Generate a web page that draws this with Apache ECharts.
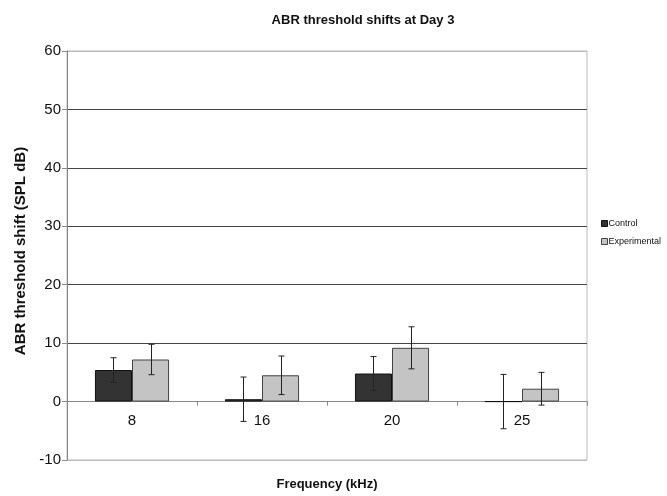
<!DOCTYPE html>
<html>
<head>
<meta charset="utf-8">
<script src="https://cdn.jsdelivr.net/npm/echarts@6/dist/echarts.min.js"></script>
<style>
  html, body { margin: 0; padding: 0; background: #fff; }
  #chart { width: 667px; height: 496px; }
</style>
</head>
<body>
<div id="chart"></div>
<script>
"use strict";

var frequencies = ['8', '16', '20', '25'];
var controlMean = [5.4, 0.4, 4.8, 0];
var controlErr = [2.1, 3.8, 2.9, 4.65];
var expMean = [7.2, 4.5, 9.2, 2.2];
var expErr = [2.6, 3.3, 3.6, 2.8];

var sans = '"Liberation Sans", Arial, sans-serif';
var gapPct = 43;
var yMin = -10;
var yMax = 60;
var gridTop = 51;
var gridBottom = 36;
var chartHeight = 496;

var myChart = echarts.init(document.getElementById('chart'));

// the category axis sits on y = 0, so shift it up from the grid bottom
var plotHeight = chartHeight - gridTop - gridBottom;
var zeroOffset = -plotHeight * (0 - yMin) / (yMax - yMin);

function errorData(means, errs) {
  return means.map(function (m, i) {
    return [i, m - errs[i], m + errs[i]];
  });
}

function makeErrorRender(side) {
  return function (params, api) {
    var idx = api.value(0);
    var low = api.coord([idx, api.value(1)]);
    var high = api.coord([idx, api.value(2)]);
    var band = api.size([1, 0])[0];
    var bw = band * (1 - gapPct / 100) / 2;
    var x = Math.round(low[0] + side * bw / 2) + 0.5;
    var cap = 3;
    var style = { stroke: '#222', lineWidth: 1 };
    return {
      type: 'group',
      children: [
        { type: 'line', shape: { x1: x, y1: high[1], x2: x, y2: low[1] }, style: style },
        { type: 'line', shape: { x1: x - cap, y1: high[1], x2: x + cap, y2: high[1] }, style: style },
        { type: 'line', shape: { x1: x - cap, y1: low[1], x2: x + cap, y2: low[1] }, style: style }
      ]
    };
  };
}

var option = {
  animation: false,
  title: {
    text: 'ABR threshold shifts at Day 3',
    left: 358,
    textAlign: 'center',
    top: 9,
    textStyle: { fontFamily: sans, fontWeight: 'bold', fontSize: 13, color: '#111' }
  },
  legend: {
    orient: 'vertical',
    left: 596,
    top: 214,
    itemWidth: 6,
    itemHeight: 6,
    itemGap: 9,
    icon: 'rect',
    data: [
      { name: 'Control', itemStyle: { borderColor: '#111', borderWidth: 1 } },
      { name: 'Experimental', itemStyle: { borderColor: '#444', borderWidth: 1 } }
    ],
    textStyle: { fontFamily: sans, fontSize: 9, color: '#111', padding: [0, 0, 0, -4] }
  },
  grid: {
    left: 67,
    right: 80,
    top: gridTop,
    bottom: gridBottom,
    show: true,
    borderColor: '#bbb',
    borderWidth: 1,
    outerBoundsMode: 'none',
    containLabel: false
  },
  xAxis: {
    type: 'category',
    data: frequencies,
    offset: zeroOffset,
    name: 'Frequency (kHz)',
    nameLocation: 'middle',
    nameGap: 76,
    nameTextStyle: { fontFamily: sans, fontWeight: 'bold', fontSize: 13, color: '#111' },
    axisLine: { onZero: false, lineStyle: { color: '#888', width: 1 } },
    axisTick: { show: true, length: 4, lineStyle: { color: '#888' } },
    axisLabel: { fontFamily: sans, fontSize: 15, color: '#111', margin: 12 }
  },
  yAxis: {
    type: 'value',
    min: yMin,
    max: yMax,
    interval: 10,
    name: 'ABR threshold shift (SPL dB)',
    nameLocation: 'middle',
    nameGap: 38,
    nameTextStyle: { fontFamily: sans, fontWeight: 'bold', fontSize: 15, color: '#111', padding: [0, 0, 0, 9] },
    axisLine: { show: true, lineStyle: { color: '#888' } },
    axisTick: { show: true, length: 5, lineStyle: { color: '#888' } },
    axisLabel: { fontFamily: sans, fontSize: 15, color: '#111', margin: 6 },
    splitLine: {
      show: true,
      lineStyle: { color: ['#bbb', '#888', '#444', '#444', '#444', '#444', '#444', '#bbb'], width: 1 }
    }
  },
  series: [
    {
      name: 'Control',
      type: 'bar',
      data: controlMean,
      barGap: '0%',
      barCategoryGap: gapPct + '%',
      itemStyle: { color: '#333', borderColor: '#111', borderWidth: 1 }
    },
    {
      name: 'Experimental',
      type: 'bar',
      data: expMean,
      itemStyle: { color: '#c4c4c4', borderColor: '#444', borderWidth: 1 }
    },
    {
      name: 'controlErr',
      type: 'custom',
      renderItem: makeErrorRender(-1),
      data: errorData(controlMean, controlErr),
      encode: { x: 0, y: [1, 2] },
      z: 5
    },
    {
      name: 'expErr',
      type: 'custom',
      renderItem: makeErrorRender(1),
      data: errorData(expMean, expErr),
      encode: { x: 0, y: [1, 2] },
      z: 5
    }
  ]
};

myChart.setOption(option);
</script>
</body>
</html>
